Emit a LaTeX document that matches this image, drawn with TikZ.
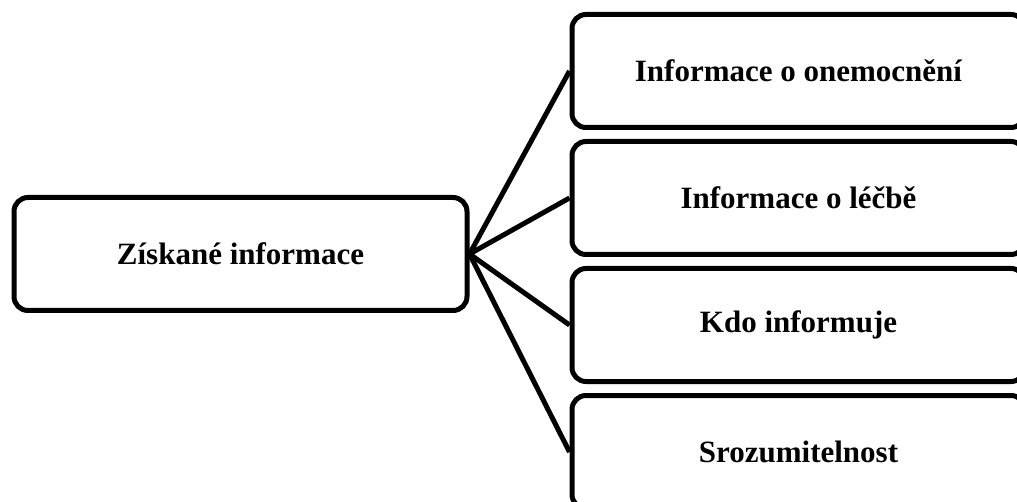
\documentclass[tikz,border=0pt]{standalone}
\usepackage{fontspec}
\setmainfont{Liberation Serif}
\begin{document}
\begin{tikzpicture}[x=1pt,y=-1pt,
  box/.style={draw=black, line width=5pt, rounded corners=14pt, fill=white,
    minimum width=453pt, minimum height=113pt, inner sep=0pt,
    font=\fontsize{31}{37}\selectfont\bfseries},
  link/.style={draw=black, line width=5pt}]
  \useasboundingbox (0,0) rectangle (1017,502);
  \clip (0,0) rectangle (1017,502);
  % central box
  \node[box] (src) at (240.5,254) {Získané informace};
  % the four categories on the right
  \node[box] (t1) at (798.5,71)  {Informace o onemocnění};
  \node[box] (t2) at (798.5,198) {Informace o léčbě};
  \node[box] (t3) at (798.5,325) {Kdo informuje};
  \node[box] (t4) at (798.5,452) {Srozumitelnost};
  % connectors fanning out from the central box
  \foreach \t in {t1,t2,t3,t4}
    \draw[link] (src.east) -- (\t.west);
\end{tikzpicture}
\end{document}
